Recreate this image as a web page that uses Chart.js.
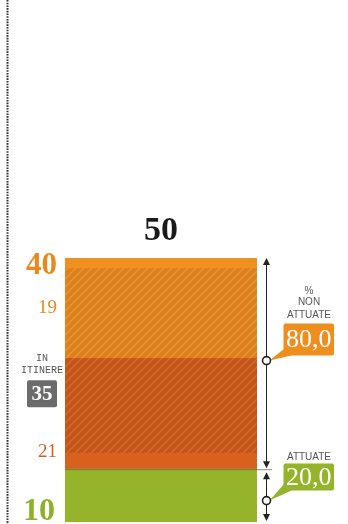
<!DOCTYPE html>
<html>
<head>
<meta charset="utf-8">
<style>
  html, body { margin: 0; padding: 0; background: #fff; }
  #wrap { width: 348px; height: 524px; position: relative; }
</style>
<script src="https://cdn.jsdelivr.net/npm/chart.js@4/dist/chart.umd.min.js"></script>
</head>
<body>
<div id="wrap"><canvas id="c" width="348" height="524"></canvas></div>
<script>
// Delibere: attuate / non attuate (di cui in itinere)
const categories = ['Totale'];
const attuate = [10];
const nonAttuateLower = [21];   // lower block of the non-implemented part
const nonAttuateUpper = [19];   // upper block of the non-implemented part
const inItinereLower = [18];    // share of the lower block still in progress
const inItinereUpper = [17];    // share of the upper block still in progress
const yRange = [0, 50];

const totale = attuate[0] + nonAttuateLower[0] + nonAttuateUpper[0];
const nonAttuate = nonAttuateLower[0] + nonAttuateUpper[0];
const inItinere = inItinereLower[0] + inItinereUpper[0];
const pct = v => (v / totale * 100).toFixed(1).replace('.', ',');

const SERIF = '"Liberation Serif", "DejaVu Serif", serif';
const NARROW = '"Liberation Sans Narrow", "Liberation Sans", "DejaVu Sans", sans-serif';
const MONO = '"Liberation Mono", "DejaVu Sans Mono", monospace';

const C_GREEN = '#95B42B';
const C_ORANGE = '#F0901F';
const C_DARK = '#D8611F';
const C_GREY = '#6b6b6b';

function hatch(base, stripe) {
  const c = document.createElement('canvas');
  c.width = 8; c.height = 8;
  const g = c.getContext('2d');
  g.fillStyle = base;
  g.fillRect(0, 0, 8, 8);
  g.strokeStyle = stripe;
  g.lineWidth = 1.2;
  g.beginPath();
  g.moveTo(0, 8); g.lineTo(8, 0);
  g.moveTo(-2, 2); g.lineTo(2, -2);
  g.moveTo(6, 10); g.lineTo(10, 6);
  g.stroke();
  return g.createPattern(c, 'repeat');
}

const ctx0 = document.getElementById('c').getContext('2d');

const annotations = {
  id: 'annotations',
  afterDatasetsDraw(chart) {
    const ctx = chart.ctx;
    const y = chart.scales.y;
    const bar = chart.getDatasetMeta(0).data[0];
    const left = bar.x - bar.width / 2;
    const cx = bar.x;
    const yTop = y.getPixelForValue(totale);
    const yAtt = y.getPixelForValue(attuate[0]);
    const yZero = y.getPixelForValue(0);
    const yMid = y.getPixelForValue(attuate[0] + nonAttuateLower[0]);

    ctx.save();

    // dotted frame line on the left
    ctx.strokeStyle = '#333';
    ctx.lineWidth = 2;
    ctx.setLineDash([1.6, 1.1]);
    ctx.beginPath();
    ctx.moveTo(7.5, 0); ctx.lineTo(7.5, 524);
    ctx.stroke();
    ctx.setLineDash([]);

    // separator at the top of the green block
    ctx.strokeStyle = 'rgba(110,100,70,0.75)';
    ctx.lineWidth = 1;
    ctx.beginPath();
    ctx.moveTo(left, yAtt + 0.5); ctx.lineTo(272, yAtt + 0.5);
    ctx.stroke();

    // total above the bar
    ctx.fillStyle = '#1a1a1a';
    ctx.font = 'bold 34px ' + SERIF;
    ctx.textAlign = 'center';
    ctx.textBaseline = 'alphabetic';
    ctx.fillText(String(totale), cx, yTop - 18);

    // left value labels
    ctx.textAlign = 'right';
    ctx.textBaseline = 'middle';
    ctx.fillStyle = '#E8891C';
    ctx.font = 'bold 31px ' + SERIF;
    ctx.fillText(String(nonAttuate), 57, yTop + 8);

    ctx.font = '19px ' + SERIF;
    ctx.fillStyle = '#E8891C';
    ctx.fillText(String(nonAttuateUpper[0]), 57, (yMid + yTop) / 2);
    ctx.fillStyle = '#D2601E';
    ctx.fillText(String(nonAttuateLower[0]), 57, yAtt - 17);

    ctx.fillStyle = '#8DB02B';
    ctx.font = 'bold 32px ' + SERIF;
    ctx.textBaseline = 'alphabetic';
    ctx.fillText(String(attuate[0]), 55, yZero - 2);

    // "in itinere" label with grey badge
    const itTop = yMid;
    ctx.textAlign = 'center';
    ctx.textBaseline = 'middle';
    ctx.fillStyle = '#555';
    ctx.font = '10px ' + MONO;
    ctx.fillText('IN', 42, itTop);
    ctx.fillText('ITINERE', 42, itTop + 12);
    ctx.fillStyle = C_GREY;
    ctx.beginPath();
    ctx.roundRect(27, itTop + 22, 30, 27, 2);
    ctx.fill();
    ctx.fillStyle = '#fff';
    ctx.font = 'bold 21px ' + SERIF;
    ctx.fillText(String(inItinere), 42, itTop + 36);

    // range arrows on the right
    const ax = 266.5;
    function arrow(y1, y2) {
      ctx.strokeStyle = '#222';
      ctx.fillStyle = '#222';
      ctx.lineWidth = 1;
      ctx.beginPath();
      ctx.moveTo(ax, y1 + 4); ctx.lineTo(ax, y2 - 4);
      ctx.stroke();
      ctx.beginPath();
      ctx.moveTo(ax, y1); ctx.lineTo(ax - 3.5, y1 + 7); ctx.lineTo(ax + 3.5, y1 + 7); ctx.closePath();
      ctx.fill();
      ctx.beginPath();
      ctx.moveTo(ax, y2); ctx.lineTo(ax - 3.5, y2 - 7); ctx.lineTo(ax + 3.5, y2 - 7); ctx.closePath();
      ctx.fill();
    }
    function dot(yc) {
      ctx.beginPath();
      ctx.arc(ax, yc, 4, 0, Math.PI * 2);
      ctx.fillStyle = '#fff';
      ctx.fill();
      ctx.lineWidth = 1.6;
      ctx.strokeStyle = '#222';
      ctx.stroke();
    }
    function callout(yc, boxTop, boxH, color, text) {
      const bx = 283.5, bw = 50.5;
      ctx.fillStyle = color;
      ctx.beginPath();
      ctx.roundRect(bx, boxTop, bw, boxH, 2);
      ctx.fill();
      ctx.beginPath();
      ctx.moveTo(ax + 3, yc);
      ctx.lineTo(bx + 1, boxTop + boxH - 7);
      ctx.lineTo(bx + 8, boxTop + boxH);
      ctx.closePath();
      ctx.fill();
      ctx.fillStyle = '#fff';
      ctx.font = '26px ' + SERIF;
      ctx.textAlign = 'center';
      ctx.textBaseline = 'middle';
      ctx.fillText(text, bx + bw / 2, boxTop + boxH / 2 + 1);
    }

    arrow(yTop, yAtt - 1);
    arrow(yAtt + 3, yZero - 1);

    const c1 = (yTop + yAtt) / 2 - 3;
    const c2 = (yAtt + yZero) / 2 + 5;
    callout(c1, c1 - 37, 32, '#EE8E1E', pct(nonAttuate));
    callout(c2, c2 - 37, 27, '#94B42C', pct(attuate[0]));
    dot(c1);
    dot(c2);

    ctx.fillStyle = '#555';
    ctx.font = '10px ' + NARROW;
    ctx.textAlign = 'center';
    ctx.textBaseline = 'middle';
    ctx.fillText('%', 309, c1 - 69);
    ctx.fillText('NON', 309, c1 - 58);
    ctx.fillText('ATTUATE', 309, c1 - 45);
    ctx.fillText('ATTUATE', 309, c2 - 43);

    ctx.restore();
  }
};

new Chart(ctx0, {
  type: 'bar',
  data: {
    labels: categories,
    datasets: [
      { label: 'Attuate', data: attuate, backgroundColor: C_GREEN },
      { label: 'Non attuate', data: nonAttuateLower.map((v, i) => v - inItinereLower[i]), backgroundColor: C_DARK },
      { label: 'In itinere', data: inItinereLower, backgroundColor: hatch('#C4561A', 'rgba(235,135,75,0.5)') },
      { label: 'In itinere', data: inItinereUpper, backgroundColor: hatch('#DC801C', 'rgba(245,175,95,0.55)') },
      { label: 'Non attuate', data: nonAttuateUpper.map((v, i) => v - inItinereUpper[i]), backgroundColor: C_ORANGE }
    ].map(d => Object.assign(d, { barPercentage: 1, categoryPercentage: 1, borderWidth: 0 }))
  },
  options: {
    responsive: false,
    animation: false,
    layout: { padding: { left: 65, right: 91, top: 258, bottom: 2 } },
    plugins: { legend: { display: false }, tooltip: { enabled: false } },
    scales: {
      x: { stacked: true, display: false },
      y: { stacked: true, display: false, min: yRange[0], max: yRange[1] }
    }
  },
  plugins: [annotations]
});
</script>
</body>
</html>
